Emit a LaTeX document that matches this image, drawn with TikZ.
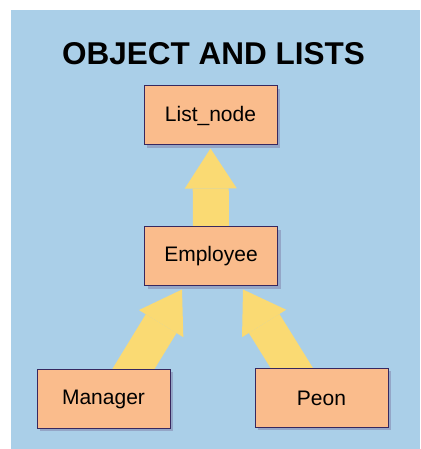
\documentclass[tikz,border=0pt]{standalone}
\usepackage{fontspec}
\setmainfont{Liberation Sans}
\usetikzlibrary{arrows.meta,shadows}
\definecolor{bgblue}{RGB}{170,207,232}
\definecolor{boxfill}{RGB}{250,188,140}
\definecolor{boxline}{RGB}{55,40,95}
\definecolor{arrowyel}{RGB}{250,218,115}
\definecolor{shadowc}{RGB}{140,150,185}
\pgfdeclarelayer{bglayer}
\pgfdeclarelayer{arrlayer}
\pgfsetlayers{bglayer,arrlayer,main}
\tikzset{
  classbox/.style={draw=boxline, line width=1pt, fill=boxfill,
    minimum width=133pt, minimum height=59pt, inner sep=0pt,
    font=\fontsize{21}{25}\selectfont,
    drop shadow={shadow xshift=3pt, shadow yshift=-3pt, fill=shadowc, opacity=0.7}},
  bigarrow/.style={draw=arrowyel, line width=36pt, line cap=butt,
    -{Triangle[width=52pt, length=40pt, line width=0pt, fill=arrowyel]}},
  titletext/.style={font=\fontsize{31.5}{36}\selectfont\bfseries, inner sep=0pt}
}
\begin{document}
\begin{tikzpicture}[x=1pt,y=1pt]
\useasboundingbox (0,0) rectangle (420,449);
\begin{pgfonlayer}{bglayer}
  \fill[white] (0,0) rectangle (420,449);
  \fill[bgblue] (11,0) rectangle (420,439);
\end{pgfonlayer}
\node[titletext] (title) at (213.5,395) {OBJECT AND LISTS};
\node[classbox] (ln) at (210.5,333.5) {List\_node};
\node[classbox] (emp) at (211,192.5) {Employee};
\node[classbox] (mgr) at (103.5,50) {Manager};
\node[classbox] (peon) at (321.5,51) {Peon};
\begin{pgfonlayer}{arrlayer}
  \draw[bigarrow] ([yshift=-8pt]emp.north) -- ([yshift=-3pt]ln.south);
  \draw[bigarrow] ([xshift=23.5pt,yshift=-10.5pt]mgr.north) -- ([xshift=-29pt,yshift=-3pt]emp.south);
  \draw[bigarrow] ([xshift=-23.5pt,yshift=-10pt]peon.north) -- ([xshift=32pt,yshift=-3pt]emp.south);
\end{pgfonlayer}
\end{tikzpicture}
\end{document}
